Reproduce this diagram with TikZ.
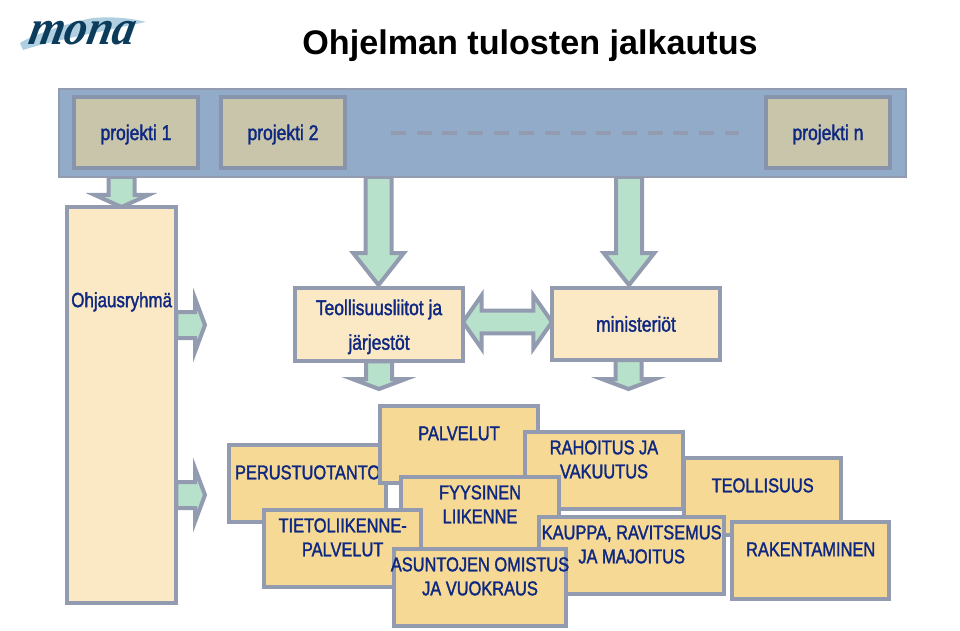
\documentclass[tikz,border=0pt]{standalone}
\usepackage{fontspec}
\setmainfont{Liberation Sans}
\newfontfamily\boxfont[FakeStretch=0.82,FakeBold=1.6]{Liberation Sans}
\newfontfamily\logofont[FakeStretch=0.92,FakeSlant=0.2]{Liberation Serif}
\usetikzlibrary{calc}

\pgfdeclarelayer{bg}
\pgfsetlayers{bg,main}

\definecolor{labelblue}{RGB}{14,40,130}
\definecolor{edgegray}{RGB}{146,155,175}
\definecolor{projedge}{RGB}{135,148,172}
\definecolor{barblue}{RGB}{145,171,200}
\definecolor{khaki}{RGB}{200,197,170}
\definecolor{cream}{RGB}{250,233,196}
\definecolor{sand}{RGB}{245,217,148}
\definecolor{mint}{RGB}{184,225,203}
\definecolor{swoosh}{RGB}{176,208,226}
\definecolor{inkteal}{RGB}{12,60,92}

\tikzset{
    anybox/.style={draw=edgegray,line width=3pt,text=labelblue,font=\boxfont\fontsize{16}{18}\selectfont,align=center,inner sep=0pt,outer sep=0pt,anchor=north west},
    projbox/.style={anybox,draw=projedge,fill=khaki,minimum width=93pt,minimum height=53pt,text depth=0pt},
    toparea/.style={anybox,fill=cream,minimum width=126pt,minimum height=55pt},
    fieldbox/.style={anybox,font=\boxfont\fontsize{15}{18}\selectfont,fill=sand,minimum width=118pt,minimum height=58pt,text depth=17pt},
    flowarrow/.style 2 args={draw=edgegray,line width=3pt,fill=mint,miter limit=20,to path={
        ($(\tikztostart)!9.75pt!90:(\tikztotarget)$)
        -- ($(\tikztotarget)!#1!(\tikztostart)!9.75pt!90:(\tikztotarget)$)
        -- ($(\tikztotarget)!#1!(\tikztostart)!#2!90:(\tikztotarget)$)
        -- (\tikztotarget)
        -- ($(\tikztotarget)!#1!(\tikztostart)!#2!-90:(\tikztotarget)$)
        -- ($(\tikztotarget)!#1!(\tikztostart)!9.75pt!-90:(\tikztotarget)$)
        -- ($(\tikztostart)!9.75pt!-90:(\tikztotarget)$) -- cycle}},
    twowayarrow/.style={draw=edgegray,line width=3pt,fill=mint,miter limit=20,to path={
        (\tikztostart)
        -- ($(\tikztostart)!14pt!(\tikztotarget)!20pt!90:(\tikztotarget)$)
        -- ($(\tikztostart)!14pt!(\tikztotarget)!8.5pt!90:(\tikztotarget)$)
        -- ($(\tikztotarget)!14pt!(\tikztostart)!8.5pt!-90:(\tikztostart)$)
        -- ($(\tikztotarget)!14pt!(\tikztostart)!20pt!-90:(\tikztostart)$)
        -- (\tikztotarget)
        -- ($(\tikztotarget)!14pt!(\tikztostart)!20pt!90:(\tikztostart)$)
        -- ($(\tikztotarget)!14pt!(\tikztostart)!8.5pt!90:(\tikztostart)$)
        -- ($(\tikztostart)!14pt!(\tikztotarget)!8.5pt!-90:(\tikztotarget)$)
        -- ($(\tikztostart)!14pt!(\tikztotarget)!20pt!-90:(\tikztotarget)$) -- cycle}}
}

\begin{document}
\begin{tikzpicture}[x=0.75pt,y=-0.75pt]
        \useasboundingbox (0,0) rectangle (960,631);

        % logo
        \fill[swoosh] (20,43) .. controls (30,36) and (70,22) .. (93,18) .. controls (115,16) and (135,19) .. (146,22) .. controls (125,26) and (105,31) .. (93,33) .. controls (70,38) and (45,43) .. (23,50) -- cycle;
        \node[text=inkteal,font=\logofont\bfseries\itshape\fontsize{37}{37}\selectfont,inner sep=0pt] (logo) at (80,33) {mona};

        % title
        \node[font=\bfseries\fontsize{25.6}{30}\selectfont,inner sep=0pt] (title) at (530,45.5) {Ohjelman tulosten jalkautus};

        % project bar
        \node[draw=edgegray,line width=1.5pt,fill=barblue,anchor=north west,outer sep=0pt,minimum width=635pt,minimum height=66pt] (bar) at (59,89) {};
        \node[projbox] (proj1) at (74,97) {projekti 1};
        \node[projbox] (proj2) at (221,97) {projekti 2};
        \node[projbox] (projn) at (766,97) {projekti n};
        \coordinate (dashleft) at (391,133);
        \coordinate (dashright) at (739,133);
        \draw[edgegray,line width=3pt,dash pattern=on 11.25pt off 8pt] (dashleft) -- (dashright);

        % top level boxes
        \node[toparea,font=\boxfont\fontsize{15.5}{18}\selectfont,minimum width=82pt,minimum height=297pt,text depth=158pt] (ohjaus) at (67,207) {Ohjausryhm\"a};
        \node[toparea,font=\boxfont\fontsize{16}{26}\selectfont,text depth=0pt] (teoll) at (295,288) {Teollisuusliitot ja\\j\"arjest\"ot};
        \node[toparea,minimum height=54pt] (minist) at (552,288) {ministeri\"ot};

        % arrows, under the boxes
        \coordinate (ohjausfoot) at (121.5,207);
        \coordinate (teolltop) at (378.5,285);
        \coordinate (mintop) at (629,285);
        \coordinate (teollfoot) at (379,389);
        \coordinate (minfoot) at (628.5,389);
        \coordinate (sideone) at (205,325);
        \coordinate (sidetwo) at (205,495);
        \begin{pgfonlayer}{bg}
            \draw[flowarrow={9pt}{20pt}] (bar.south -| ohjausfoot) to (ohjausfoot);
            \draw[flowarrow={24pt}{19pt}] (bar.south -| teolltop) to (teolltop);
            \draw[flowarrow={24pt}{19pt}] (bar.south -| mintop) to (mintop);
            \draw[flowarrow={7.5pt}{20pt}] (teoll.south -| teollfoot) to (teollfoot);
            \draw[flowarrow={7.5pt}{20pt}] (minist.south -| minfoot) to (minfoot);
            \draw[flowarrow={7.5pt}{20pt}] (ohjaus.east |- sideone) to (sideone);
            \draw[flowarrow={7.5pt}{20pt}] (ohjaus.east |- sidetwo) to (sidetwo);
            \draw[twowayarrow] (teoll.east |- 0,322) to (minist.west |- 0,322);
        \end{pgfonlayer}

        % fields, back to front
        \node[fieldbox] (perus) at (229,445) {PERUSTUOTANTO};
        \node[fieldbox,minimum width=118.5pt] (palvelut) at (380,406) {PALVELUT};
        \node[fieldbox] (teollisuus) at (684,458) {TEOLLISUUS};
        \node[fieldbox,minimum width=118.5pt] (rahoitus) at (525,432) {RAHOITUS JA\\VAKUUTUS};
        \node[fieldbox,minimum width=118.5pt] (fyysinen) at (401,477) {FYYSINEN\\LIIKENNE};
        \node[fieldbox] (tieto) at (264,510) {TIETOLIIKENNE-\\PALVELUT};
        \node[fieldbox,minimum width=139pt] (kauppa) at (539,517) {KAUPPA, RAVITSEMUS\\JA MAJOITUS};
        \node[fieldbox,minimum width=129pt,inner xsep=-5pt] (asunnot) at (394,549) {ASUNTOJEN OMISTUS\\JA VUOKRAUS};
        \node[fieldbox] (rakent) at (732,522) {RAKENTAMINEN};
\end{tikzpicture}
\end{document}
